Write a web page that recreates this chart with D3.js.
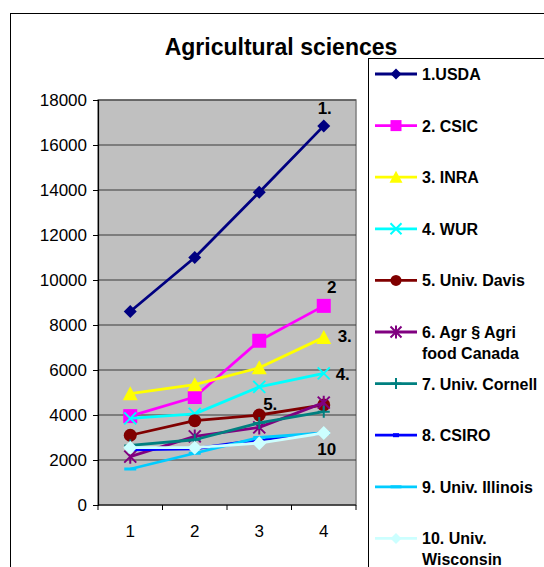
<!DOCTYPE html>
<html>
<head>
<meta charset="utf-8">
<script src="https://cdn.jsdelivr.net/npm/d3@7/dist/d3.min.js"></script>
<style>
  html, body { margin: 0; padding: 0; background: #fff; }
  svg { display: block; }
  text { font-family: "Liberation Sans", Arial, sans-serif; }
</style>
</head>
<body>
<svg id="chart" width="544" height="567"></svg>
<script>
// Publication counts for agricultural sciences, per period (1..4)
const categories = ["1", "2", "3", "4"];
const seriesNames = [
  "1.USDA", "2. CSIC", "3. INRA", "4. WUR", "5. Univ. Davis",
  "6. Agr § Agri food Canada", "7. Univ. Cornell", "8. CSIRO",
  "9. Univ. Illinois", "10. Univ. Wisconsin"
];
const usda      = [8600, 11000, 13900, 16850];
const csic      = [3950, 4800, 7300, 8850];
const inra      = [4950, 5350, 6100, 7450];
const wur       = [3850, 4050, 5250, 5850];
const davis     = [3100, 3750, 4000, 4450];
const agrCanada = [2150, 3050, 3450, 4550];
const cornell   = [2650, 2900, 3650, 4150];
const csiro     = [2450, 2500, 2900, 3200];
const illinois  = [1600, 2300, 3000, 3200];
const wisconsin = [2550, 2550, 2750, 3200];
const yTicks = [0, 2000, 4000, 6000, 8000, 10000, 12000, 14000, 16000, 18000];
const endLabels = ["1.", "2", "3.", "4.", "5.", "", "", "", "", "10"];

const seriesValues = [usda, csic, inra, wur, davis, agrCanada, cornell, csiro, illinois, wisconsin];
const colors = ["#000080", "#ff00ff", "#ffff00", "#00ffff", "#800000",
                "#800080", "#008080", "#0000ff", "#00ccff", "#ccffff"];
const markers = ["diamond", "square", "triangle", "x", "circle",
                 "star", "plus", "dash", "bar", "diamond"];

const svg = d3.select("#chart");

// chart frame
svg.append("rect").attr("x", 10.5).attr("y", 13.5).attr("width", 600).attr("height", 600)
  .attr("fill", "#fff").attr("stroke", "#000").attr("stroke-width", 1);

svg.append("text").attr("x", 281).attr("y", 55).attr("text-anchor", "middle")
  .attr("font-size", 23).attr("font-weight", "bold").text("Agricultural sciences");

const plot = { left: 98, right: 356, top: 100, bottom: 505 };
const x = d3.scaleBand().domain(categories).range([plot.left, plot.right]).padding(0);
const y = d3.scaleLinear().domain([0, 18000]).range([plot.bottom, plot.top]);

// plot area
svg.append("rect").attr("x", plot.left).attr("y", plot.top)
  .attr("width", plot.right - plot.left).attr("height", plot.bottom - plot.top)
  .attr("fill", "#c0c0c0").attr("stroke", "#808080").attr("stroke-width", 1.5);

// horizontal gridlines
svg.append("g").selectAll("line").data(yTicks.filter(v => v > 0)).join("line")
  .attr("x1", plot.left).attr("x2", plot.right)
  .attr("y1", d => y(d)).attr("y2", d => y(d))
  .attr("stroke", "#3a3a3a").attr("stroke-width", 1.2);

// y axis
const yAxis = d3.axisLeft(y).tickValues(yTicks).tickFormat(d3.format("d")).tickSize(5).tickPadding(6);
const gy = svg.append("g").attr("transform", `translate(${plot.left},0)`).call(yAxis);
gy.select(".domain").attr("stroke", "#000").attr("stroke-width", 1.2);
gy.selectAll(".tick line").attr("stroke", "#000");
gy.selectAll("text").attr("font-size", 17).attr("fill", "#000")
  .attr("font-family", "Liberation Sans, Arial, sans-serif");

// x axis: ticks on category boundaries
const gx = svg.append("g").attr("transform", `translate(0,${plot.bottom})`);
gx.append("line").attr("x1", plot.left).attr("x2", plot.right).attr("y1", 0).attr("y2", 0)
  .attr("stroke", "#000").attr("stroke-width", 1.2);
const bounds = categories.map(c => x(c)).concat([x(categories[categories.length - 1]) + x.bandwidth()]);
gx.selectAll("line.b").data(bounds).join("line").attr("class", "b")
  .attr("x1", d => d).attr("x2", d => d).attr("y1", 0).attr("y2", 5)
  .attr("stroke", "#000");
gx.selectAll("text").data(categories).join("text")
  .attr("x", d => x(d) + x.bandwidth() / 2).attr("y", 32)
  .attr("text-anchor", "middle").attr("font-size", 17).text(d => d);

const cx = c => x(c) + x.bandwidth() / 2;

function drawMarker(g, type, color, size) {
  const s = size / 2;
  switch (type) {
    case "diamond":
      g.append("path").attr("d", `M0,${-s}L${s},0L0,${s}L${-s},0Z`).attr("fill", color); break;
    case "square":
      g.append("rect").attr("x", -s).attr("y", -s).attr("width", size).attr("height", size).attr("fill", color); break;
    case "triangle":
      g.append("path").attr("d", `M0,${-s - 1}L${s + 1},${s}L${-s - 1},${s}Z`).attr("fill", color); break;
    case "circle":
      g.append("circle").attr("r", s).attr("fill", color); break;
    case "x":
      g.append("path").attr("d", `M${-s},${-s}L${s},${s}M${-s},${s}L${s},${-s}`)
        .attr("stroke", color).attr("stroke-width", 2); break;
    case "star":
      g.append("path").attr("d", `M${-s},${-s}L${s},${s}M${-s},${s}L${s},${-s}M0,${-s - 1}L0,${s + 1}`)
        .attr("stroke", color).attr("stroke-width", 2); break;
    case "plus":
      g.append("path").attr("d", `M0,${-s}L0,${s}M${-s},0L${s},0`)
        .attr("stroke", color).attr("stroke-width", 2); break;
    case "dash":
      g.append("rect").attr("x", -3).attr("y", -2).attr("width", 6).attr("height", 4).attr("fill", color); break;
    case "bar":
      g.append("rect").attr("x", -s).attr("y", -1.5).attr("width", size).attr("height", 3).attr("fill", color); break;
  }
}

const markerSize = [13, 14, 13, 12, 13, 12, 12, 6, 12, 14];

const line = d3.line().x((d, i) => cx(categories[i])).y(d => y(d));

seriesValues.forEach((vals, si) => {
  const g = svg.append("g");
  g.append("path").datum(vals).attr("d", line)
    .attr("fill", "none").attr("stroke", colors[si]).attr("stroke-width", 2.8)
    .attr("stroke-linejoin", "round");
  vals.forEach((v, i) => {
    const m = g.append("g").attr("transform", `translate(${cx(categories[i])},${y(v)})`);
    drawMarker(m, markers[si], colors[si], markerSize[si]);
  });
});

// end-of-series labels
const labelAt = [
  { s: 0, i: 3, dx: 1, dy: -12 },
  { s: 1, i: 3, dx: 8, dy: -13 },
  { s: 2, i: 3, dx: 21, dy: 5 },
  { s: 3, i: 3, dx: 19, dy: 7 },
  { s: 4, i: 2, dx: 11, dy: -5 },
  { s: 9, i: 3, dx: 3, dy: 22 }
];
labelAt.forEach(l => {
  svg.append("text")
    .attr("x", cx(categories[l.i]) + l.dx)
    .attr("y", y(seriesValues[l.s][l.i]) + l.dy)
    .attr("text-anchor", "middle").attr("font-size", 17).attr("font-weight", "bold")
    .text(endLabels[l.s]);
});

// legend
svg.append("rect").attr("x", 368.5).attr("y", 58.5).attr("width", 300).attr("height", 600)
  .attr("fill", "#fff").attr("stroke", "#000").attr("stroke-width", 1);
const legendLines = [
  ["1.USDA"], ["2. CSIC"], ["3. INRA"], ["4. WUR"], ["5. Univ. Davis"],
  ["6. Agr § Agri", "food Canada"], ["7. Univ. Cornell"], ["8. CSIRO"],
  ["9. Univ. Illinois"], ["10. Univ.", "Wisconsin"]
];
seriesNames.forEach((name, si) => {
  const ly = 74 + si * 51.6;
  const g = svg.append("g").attr("transform", `translate(0,${ly})`);
  g.append("line").attr("x1", 375).attr("x2", 417).attr("y1", 0).attr("y2", 0)
    .attr("stroke", colors[si]).attr("stroke-width", 2.8);
  const m = g.append("g").attr("transform", "translate(396,0)");
  drawMarker(m, markers[si], colors[si], Math.min(markerSize[si], 11));
  const t = g.append("text").attr("x", 422).attr("y", 6).attr("font-size", 16).attr("font-weight", "bold");
  legendLines[si].forEach((ln, k) => {
    t.append("tspan").attr("x", 422).attr("dy", k === 0 ? 0 : 20.5).text(ln);
  });
});
</script>
</body>
</html>
